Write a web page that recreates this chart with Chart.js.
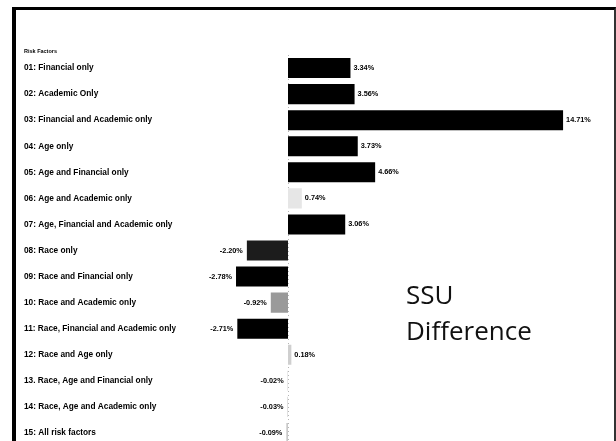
<!DOCTYPE html>
<html>
<head>
<meta charset="utf-8">
<script src="https://cdn.jsdelivr.net/npm/chart.js@4/dist/chart.umd.min.js"></script>
<style>
  html, body { margin: 0; padding: 0; width: 616px; height: 441px; overflow: hidden; background: #fff; }
  #frame { position: absolute; left: 12px; top: 7px; width: 604px; height: 500px; box-sizing: border-box;
           border-left: 4px solid #000; border-top: 3px solid #000; border-right: 2px solid #333; }
  #wrap { position: absolute; left: 0; top: 0; width: 616px; height: 460px; }
  #hdr { position: absolute; left: 24px; top: 48px; font: bold 5.5px "Liberation Sans", Arial, sans-serif; color: #000; }
  #note { position: absolute; left: 406px; top: 276px; font: 26px "Open Sans", sans-serif; line-height: 36px; color: #111; }
</style>
</head>
<body>
<div id="frame"></div>
<div id="wrap"><canvas id="ssuChart"></canvas></div>
<div id="hdr">Risk Factors</div>
<div id="note">SSU<br>Difference</div>
<script>
// SSU difference by risk factor combination (%)
const riskFactors = [
  '01: Financial only', '02: Academic Only', '03: Financial and Academic only', '04: Age only',
  '05: Age and Financial only', '06: Age and Academic only', '07: Age, Financial and Academic only',
  '08: Race only', '09: Race and Financial only', '10: Race and Academic only',
  '11: Race, Financial and Academic only', '12: Race and Age only', '13. Race, Age and Financial only',
  '14: Race, Age and Academic only', '15: All risk factors'
];
const ssuDiff = [3.34, 3.56, 14.71, 3.73, 4.66, 0.74, 3.06, -2.20, -2.78, -0.92, -2.71, 0.18, -0.02, -0.03, -0.09];
const barColors = ['#000', '#000', '#000', '#000', '#000', '#e6e6e6', '#000', '#1c1c1c', '#000', '#9a9a9a',
                   '#000', '#cfcfcf', '#c8c8c8', '#c8c8c8', '#c8c8c8'];

// dotted zero line + value labels
const valueLabels = {
  id: 'valueLabels',
  beforeDatasetsDraw(chart) {
    const { ctx, chartArea, scales } = chart;
    const x0 = Math.round(scales.x.getPixelForValue(0)) + 0.5;
    ctx.save();
    ctx.strokeStyle = '#b5b5b5';
    ctx.lineWidth = 1;
    ctx.setLineDash([1, 3]);
    ctx.beginPath();
    ctx.moveTo(x0, chartArea.top);
    ctx.lineTo(x0, chartArea.bottom);
    ctx.stroke();
    ctx.restore();
  },
  afterDatasetsDraw(chart) {
    const { ctx } = chart;
    const meta = chart.getDatasetMeta(0);
    ctx.save();
    ctx.font = 'bold 7.3px "Liberation Sans", Arial, sans-serif';
    ctx.fillStyle = '#000';
    ctx.textBaseline = 'middle';
    meta.data.forEach((bar, i) => {
      const v = ssuDiff[i];
      const txt = v.toFixed(2) + '%';
      if (v >= 0) {
        ctx.textAlign = 'left';
        ctx.fillText(txt, bar.x + 3, bar.y);
      } else {
        ctx.textAlign = 'right';
        ctx.fillText(txt, bar.x - 4, bar.y);
      }
    });
    ctx.restore();
  }
};

new Chart(document.getElementById('ssuChart'), {
  type: 'bar',
  data: {
    labels: riskFactors,
    datasets: [{
      data: ssuDiff,
      backgroundColor: barColors,
      categoryPercentage: 1,
      barPercentage: 0.77
    }]
  },
  options: {
    indexAxis: 'y',
    responsive: true,
    maintainAspectRatio: false,
    animation: false,
    layout: { padding: { left: 24, right: 28.8, top: 55, bottom: 14 } },
    plugins: { legend: { display: false }, tooltip: { enabled: false } },
    scales: {
      x: { display: false, min: -6, max: 16 },
      y: {
        grid: { display: false },
        border: { display: false },
        afterFit(scale) { scale.width = 151.8; },
        ticks: {
          crossAlign: 'far',
          padding: 0,
          color: '#000',
          font: { family: '"Liberation Sans", Arial, sans-serif', size: 8.3, weight: 'bold' }
        }
      }
    }
  },
  plugins: [valueLabels]
});
</script>
</body>
</html>
